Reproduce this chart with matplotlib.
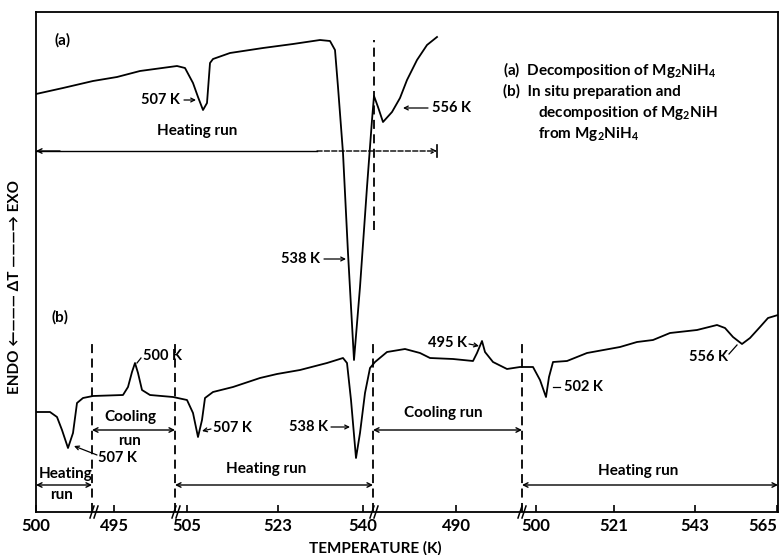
import matplotlib
matplotlib.use('Agg')
import matplotlib.pyplot as plt

# positions along the chart paper (x) and signal height above the baseline (y)
# curve (a): decomposition of Mg2NiH4, heating run
curve_a_x = [36, 63, 93, 117, 140, 177, 185, 193, 198, 203, 207, 210, 213, 230, 263, 293, 320, 330,
             335, 338, 343, 348, 354, 360, 367, 372, 374, 378, 383, 392, 400, 407, 417, 427, 437]
curve_a_y = [418, 424, 431, 435, 441, 446, 444, 429, 415, 402, 409, 449, 453, 459, 464, 468, 472, 471,
             462, 425, 359, 259, 152, 225, 325, 392, 416, 405, 390, 400, 414, 432, 452, 467, 475]

# curve (b): heating / cooling cycles
curve_b_x = [36, 50, 57, 62, 68, 73, 77, 83, 93, 123, 128, 132, 135, 138, 142, 150, 173, 187, 193, 198,
             202, 205, 213, 233, 260, 277, 300, 327, 343, 347, 351, 356, 360, 365, 370, 375, 387, 405,
             420, 430, 453, 473, 477, 482, 485, 493, 507, 520, 533, 540, 546, 549, 553, 567, 587, 620,
             637, 653, 670, 697, 717, 725, 733, 742, 750, 760, 768, 778]
curve_b_y = [100, 100, 95, 82, 64, 79, 109, 114, 116, 117, 125, 140, 149, 139, 122, 117, 115, 112, 99, 75,
             92, 114, 120, 125, 134, 138, 142, 149, 154, 149, 112, 54, 79, 119, 144, 150, 160, 163,
             159, 154, 153, 151, 159, 171, 160, 150, 143, 145, 145, 132, 115, 135, 150, 151, 159, 165,
             170, 172, 179, 182, 187, 184, 175, 168, 174, 185, 194, 197]

# temperature scale (broken axis)
tick_pos = [36, 114, 187, 278, 363, 456, 536, 614, 695, 777]
tick_labels = ['500', '495', '505', '523', '540', '490', '500', '521', '543', '565']
break_pos = [95, 177, 375, 523]

# run boundaries for (b)
run_bounds = [36, 92, 175, 373, 522, 778]

plt.rcParams['font.family'] = ['Lato', 'DejaVu Sans']
plt.rcParams['font.weight'] = 'bold'

fig = plt.figure(figsize=(7.8, 5.55), dpi=100)
ax = fig.add_axes([36 / 780, 43 / 555, 742 / 780, 500 / 555])
ax.set_xlim(36, 778)
ax.set_ylim(0, 500)

lw = 1.3
ax.plot(curve_a_x, curve_a_y, color='black', lw=lw)
ax.plot(curve_b_x, curve_b_y, color='black', lw=lw)

for s in ax.spines.values():
    s.set_linewidth(1.3)

ax.set_yticks([])
ax.set_xticks(tick_pos)
ax.set_xticklabels(tick_labels, fontsize=12, fontweight='bold')
ax.get_xticklabels()[-1].set_ha('right')
ax.tick_params(axis='x', direction='in', length=5, width=1.2, pad=4)

# break marks on the temperature axis
for b in break_pos:
    for dx in (-3, 1):
        ax.plot([b + dx - 2, b + dx + 2], [-6, 6], color='black', lw=1.1, clip_on=False)

dash = (0, (5, 3))
# vertical dashed line for (a)
ax.plot([374, 374], [282, 472], color='black', lw=1.3, linestyle=dash)
# vertical dashed separators for (b)
for b in run_bounds[1:-1]:
    ax.plot([b, b], [0, 172], color='black', lw=1.3, linestyle=dash)

arrow_kw = dict(arrowstyle='<->', color='black', lw=1.0, mutation_scale=8, shrinkA=0, shrinkB=0)

# (a) heating run marker
ax.plot([36, 317], [361, 361], color='black', lw=1.0)
ax.annotate('', xy=(437, 361), xytext=(317, 361),
            arrowprops=dict(arrowstyle='->', color='black', lw=1.0, mutation_scale=8,
                            linestyle='--', shrinkA=0, shrinkB=0))
ax.annotate('', xy=(36, 361), xytext=(60, 361),
            arrowprops=dict(arrowstyle='->', color='black', lw=1.0, mutation_scale=8, shrinkA=0, shrinkB=0))
ax.plot([437, 437], [355, 367], color='black', lw=1.2)
ax.text(197, 381, 'Heating run', fontsize=11, ha='center', va='center')

# (b) run markers
heat_y = 27
cool_y = 82
for i in range(5):
    x0, x1 = run_bounds[i], run_bounds[i + 1]
    yy = heat_y if i % 2 == 0 else cool_y
    ax.annotate('', xy=(x1, yy), xytext=(x0, yy), arrowprops=arrow_kw)
ax.text(66, 38, 'Heating', fontsize=11, ha='center', va='center')
ax.text(62, 17, 'run', fontsize=11, ha='center', va='center')
ax.text(130, 95, 'Cooling', fontsize=11, ha='center', va='center')
ax.text(130, 71, 'run', fontsize=11, ha='center', va='center')
ax.text(266, 43, 'Heating run', fontsize=11, ha='center', va='center')
ax.text(443, 99, 'Cooling run', fontsize=11, ha='center', va='center')
ax.text(638, 41, 'Heating run', fontsize=11, ha='center', va='center')

# labels
ax.text(63, 472, '(a)', fontsize=11, ha='center', va='center')
ax.text(60, 195, '(b)', fontsize=11, ha='center', va='center')

small_arrow = dict(arrowstyle='->', color='black', lw=0.9, mutation_scale=7, shrinkA=0, shrinkB=0)
# (a) peaks
ax.text(180, 412, '507 K', fontsize=10.5, ha='right', va='center')
ax.annotate('', xy=(196, 412), xytext=(184, 412), arrowprops=small_arrow)
ax.text(320, 253, '538 K', fontsize=10.5, ha='right', va='center')
ax.annotate('', xy=(346, 253), xytext=(324, 253), arrowprops=small_arrow)
ax.annotate('', xy=(403, 404), xytext=(428, 404), arrowprops=small_arrow)
ax.text(432, 404, '556 K', fontsize=10.5, ha='left', va='center')

# (b) peaks
ax.text(143, 156, '500 K', fontsize=10.5, ha='left', va='center')
ax.plot([137, 141], [149, 154], color='black', lw=0.9)
ax.annotate('', xy=(74, 66), xytext=(97, 57), arrowprops=small_arrow)
ax.text(98, 54, '507 K', fontsize=10.5, ha='left', va='center')
ax.annotate('', xy=(202, 81), xytext=(211, 83), arrowprops=small_arrow)
ax.text(213, 84, '507 K', fontsize=10.5, ha='left', va='center')
ax.text(328, 85, '538 K', fontsize=10.5, ha='right', va='center')
ax.annotate('', xy=(350, 85), xytext=(331, 85), arrowprops=small_arrow)
ax.text(467, 169, '495 K', fontsize=10.5, ha='right', va='center')
ax.annotate('', xy=(479, 166), xytext=(469, 168), arrowprops=small_arrow)
ax.plot([553, 560], [125, 125], color='black', lw=0.9)
ax.text(564, 125, '502 K', fontsize=10.5, ha='left', va='center')
ax.text(728, 155, '556 K', fontsize=10.5, ha='right', va='center')
ax.plot([729, 737], [158, 167], color='black', lw=0.9)

# legend text
ax.text(503, 442, '(a)  Decomposition of Mg$_\\mathregular{2}$NiH$_\\mathregular{4}$', fontsize=11,
        ha='left', va='center')
ax.text(503, 421, '(b)  In situ preparation and', fontsize=11, ha='left', va='center')
ax.text(538, 399, 'decomposition of Mg$_\\mathregular{2}$NiH', fontsize=11, ha='left', va='center')
ax.text(538, 378, 'from Mg$_\\mathregular{2}$NiH$_\\mathregular{4}$', fontsize=11, ha='left', va='center')

fig.text(15 / 780, 1 - 287 / 555, 'ENDO \u2190\u2014\u2014\u2014 \u0394T \u2014\u2014\u2014\u2192 EXO',
         rotation=90, ha='center', va='center', fontsize=11)
fig.text(375 / 780, 1 - 548 / 555, 'TEMPERATURE (K)', ha='center', va='center', fontsize=11)

fig.savefig('out.png', dpi=100)
